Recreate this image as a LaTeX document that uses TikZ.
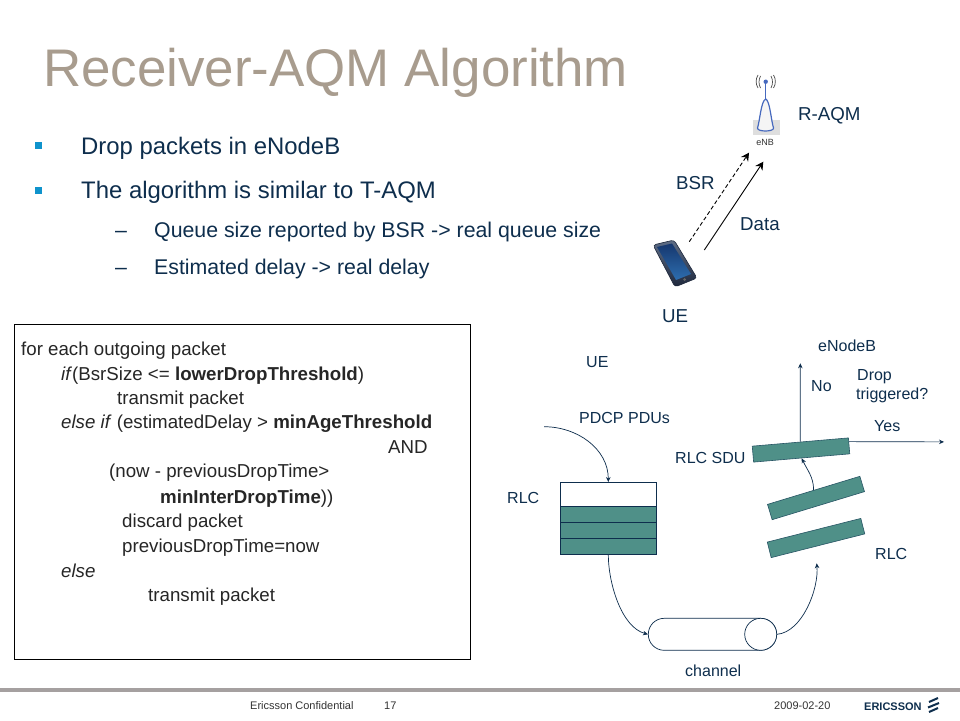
\documentclass[tikz,border=0pt]{standalone}
\usepackage{fontspec}
\setmainfont{Liberation Sans}
\usepackage{xcolor}
\usetikzlibrary{arrows.meta}
\definecolor{titletan}{RGB}{168,156,142}
\definecolor{inkblue}{RGB}{14,46,77}
\definecolor{bulletblue}{RGB}{15,147,204}
\definecolor{rlcteal}{RGB}{79,144,136}
\definecolor{barsilver}{RGB}{165,160,160}
\definecolor{antenna}{RGB}{70,105,190}
\definecolor{screentop}{RGB}{22,55,110}
\definecolor{screenlow}{RGB}{45,110,175}
\definecolor{phonetop}{RGB}{95,110,135}
\definecolor{phonelow}{RGB}{30,40,60}
\newcommand{\fs}[1]{\fontsize{#1}{#1}\selectfont}

\begin{document}
\begin{tikzpicture}[
    x=1pt,
    y=-1pt,
    txt/.style={anchor=base west, inner sep=0pt, text=inkblue},
    body/.style={txt, font=\fs{23.9}},
    sub/.style={txt, font=\fs{21.3}},
    code/.style={anchor=base west, inner sep=0pt, text=black!85, font=\fs{18.7}},
    lbl/.style={txt, font=\fs{18.7}},
    small/.style={txt, font=\fs{16}},
    foot/.style={anchor=base west, inner sep=0pt, text=black!80, font=\fs{11}},
    bullet/.style={fill=bulletblue, draw=none, minimum size=7pt, inner sep=0pt},
    cell/.style={draw=inkblue, fill=rlcteal, line width=0.7pt, minimum width=96pt, minimum height=16pt, inner sep=0pt},
    pdu/.style={draw=inkblue!60!rlcteal, fill=rlcteal, line width=0.6pt, minimum width=96.5pt, minimum height=16pt, inner sep=0pt},
    wire/.style={-{Stealth[length=5pt,width=4.5pt]}, inkblue, line width=0.7pt},
    radio/.style={-{Stealth[length=8pt,width=8.5pt]}, black, line width=0.9pt},
    wave/.style={black!70, line width=0.7pt}
]
\useasboundingbox (0,0) rectangle (960,720);
\fill[white] (0,0) rectangle (960,720);

% Titulo y texto
\node[anchor=base west, inner sep=0pt, text=titletan, font=\fs{52.9}] (title) at (43,86) {Receiver-AQM Algorithm};
\node[bullet] (b1) at (38.5,145.5) {};
\node[bullet] (b2) at (38.5,190) {};
\node[body] (drop) at (81,154) {Drop packets in eNodeB};
\node[body] (similar) at (81,198) {The algorithm is similar to T-AQM};
\node[sub] (dash1) at (115,237) {–};
\node[sub] (queue) at (154,237) {Queue size reported by BSR -> real queue size};
\node[sub] (dash2) at (115,274) {–};
\node[sub] (delay) at (154,274) {Estimated delay -> real delay};

% Pseudocodigo
\node[draw=black, line width=0.8pt, minimum width=456pt, minimum height=335pt, inner sep=0pt] (codebox) at (242,491.5) {};
\node[code] (c1) at (21,355) {for each outgoing packet};
\node[code] (c2) at (61,380) {\textit{if}(BsrSize <= \textbf{lowerDropThreshold})};
\node[code] (c3) at (117,404) {transmit packet};
\node[code] (c4) at (61,428) {\textit{else if} (estimatedDelay > \textbf{minAgeThreshold}};
\node[code] (c5) at (388,453) {AND};
\node[code] (c6) at (109,477) {(now - previousDropTime>};
\node[code] (c7) at (160,503) {\textbf{minInterDropTime}))};
\node[code] (c8) at (122,527) {discard packet};
\node[code] (c9) at (122,552) {previousDropTime=now};
\node[code] (c10) at (61,577) {\textit{else}};
\node[code] (c11) at (148,601) {transmit packet};

% eNB
\fill[black!13] (752.7,120) rectangle (780,135);
\draw[antenna, fill=black!4, line width=1.2pt] (765.7,99) .. controls (761,101) and (760,120) .. (757.5,128) .. controls (757,132) and (774,132) .. (773.5,128) .. controls (771,120) and (770,101) .. (765.7,99) -- cycle;
\draw[antenna, line width=1.2pt] (765.7,82) -- (765.7,99);
\fill[antenna] (765.7,81.7) circle (2.2pt);
\draw[wave] (760.5,76) .. controls (758.5,80) and (758.5,84) .. (760.5,88);
\draw[wave] (758,75) .. controls (755.5,79) and (755.5,84) .. (758,88);
\draw[wave] (771,76) .. controls (773,80) and (773,84) .. (771,88);
\draw[wave] (773.5,75) .. controls (776,79) and (776,84) .. (773.5,88);
\node[anchor=center, inner sep=0pt, text=black!80, font=\fs{9}] (enb) at (765,142.7) {eNB};

% Telefono
\draw[phonelow, line width=0.6pt, rounded corners=3pt, top color=phonetop, bottom color=phonelow] (653,245) -- (674,240) -- (697,278) -- (675,287) -- cycle;
\shade[top color=screentop, bottom color=screenlow] (657,247) -- (672,243.5) -- (691,274) -- (676,280) -- cycle;
\fill[black!60] (684.5,279.5) circle (1.5pt);
\coordinate (ue1) at (689.3,241.7);
\coordinate (ue2) at (704.3,250);
\coordinate (enb1) at (749,152.7);
\coordinate (enb2) at (763.3,161.7);
\draw[radio, dash pattern=on 4pt off 2.5pt] (ue1) -- (enb1);
\draw[radio] (ue2) -- (enb2);
\node[lbl] (bsr) at (676,189) {BSR};
\node[lbl] (data) at (740,230) {Data};
\node[lbl] (raqm) at (798,120) {R-AQM};
\node[lbl] (ue) at (662,322) {UE};

% Cola RLC
\node[draw=inkblue, fill=white, line width=0.7pt, minimum width=96pt, minimum height=23.7pt, inner sep=0pt] (cell0) at (608.3,494.2) {};
\node[cell] (cell1) at (608.3,514.2) {};
\node[cell] (cell2) at (608.3,530.3) {};
\node[cell] (cell3) at (608.3,546.3) {};
\coordinate (pdcpin) at (544,426.7);
\draw[wire] (pdcpin) to[out=0, in=90] (cell0.north);
\node[small] (uelow) at (586,367) {UE};
\node[small] (pdcp) at (579,423) {PDCP PDUs};
\node[small] (rlcleft) at (507,503) {RLC};

% Canal
\node[draw=inkblue, fill=white, line width=0.7pt, rounded corners=15.9pt, minimum width=128.4pt, minimum height=32pt, inner sep=0pt] (channel) at (712.5,634.3) {};
\node[draw=inkblue, fill=white, circle, line width=0.7pt, minimum size=32pt, inner sep=0pt] (channelend) at (760.7,634.3) {};
\node[small] (channeltxt) at (685,676) {channel};
\draw[wire] (cell3.south) to[out=-90, in=165, looseness=0.8] (channel.west);
\coordinate (rlcin) at (816.7,563.3);
\draw[wire] (channelend.east) to[out=5, in=-85, looseness=0.8] (rlcin);

% Bloques RLC
\node[pdu, rotate=14.2] (pdu3) at (816,538) {};
\node[pdu, rotate=16.9] (pdu2) at (816,498) {};
\node[pdu, rotate=4.9] (sdu) at (801,450) {};
\coordinate (notop) at (800.3,363.3);
\coordinate (yesend) at (944,441.9);
\draw[wire] (pdu2.north) to[out=90, in=-65] (sdu.south);
\draw[wire] (sdu.north) -- (notop);
\draw[wire] (sdu.5) -- (yesend);
\node[small] (enodeb) at (818,351) {eNodeB};
\node[small] (no) at (811,391) {No};
\node[small] (droptxt) at (857,380) {Drop};
\node[small] (trig) at (856,399) {triggered?};
\node[small] (yes) at (874,431) {Yes};
\node[small] (sdutxt) at (675,463) {RLC SDU};
\node[small] (rlcright) at (875,559) {RLC};

% Pie
\fill[barsilver] (0,688) rectangle (960,692);
\node[foot] (conf) at (250,709) {Ericsson Confidential};
\node[foot] (page) at (384,709) {17};
\node[foot] (date) at (774,709) {2009-02-20};
\node[anchor=base west, inner sep=0pt, text=inkblue, font=\fs{11}\bfseries] (logo) at (864,710) {ERICSSON};
\draw[inkblue, line width=2pt] (929,702) -- (938,698);
\draw[inkblue, line width=2pt] (928,707.5) -- (939,703);
\draw[inkblue, line width=2pt] (929,712) -- (938,708);

\end{tikzpicture}
\end{document}
